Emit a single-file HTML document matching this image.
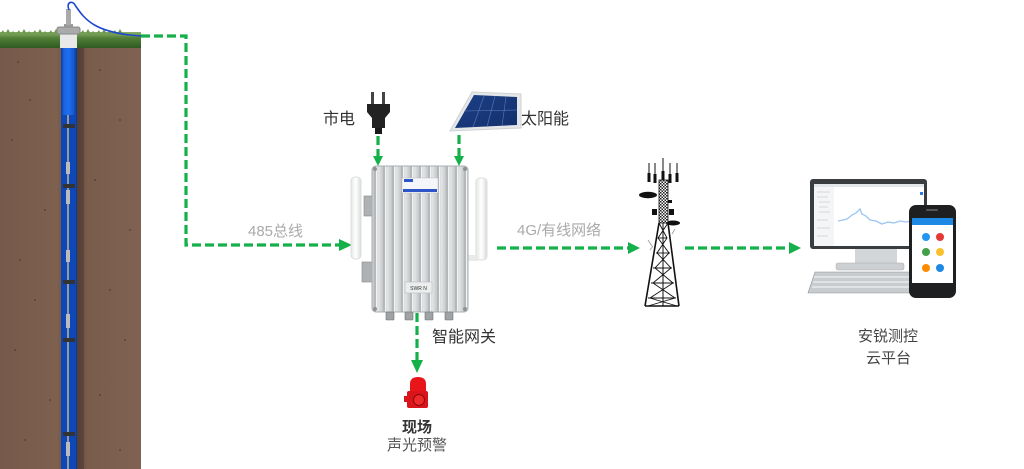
<!DOCTYPE html>
<html><head><meta charset="utf-8"><style>
html,body{margin:0;padding:0;background:#fff;}
body{width:1024px;height:469px;overflow:hidden;position:relative;font-family:"Liberation Sans","Noto Sans CJK SC",sans-serif;}
.t{position:absolute;white-space:nowrap;line-height:1;}
</style></head><body>
<svg width="1024" height="469" viewBox="0 0 1024 469" xmlns="http://www.w3.org/2000/svg" style="position:absolute;left:0;top:0">
<defs>
<linearGradient id="soil" x1="0" x2="1">
<stop offset="0" stop-color="#76594a"/><stop offset="0.4" stop-color="#7e604f"/><stop offset="0.55" stop-color="#5e4538"/><stop offset="0.62" stop-color="#7a5c4b"/><stop offset="1" stop-color="#806253"/>
</linearGradient>
<linearGradient id="pipe" x1="0" x2="1">
<stop offset="0" stop-color="#0a3fa8"/><stop offset="0.2" stop-color="#1a66e0"/><stop offset="0.5" stop-color="#1f6ef0"/><stop offset="0.8" stop-color="#1558cc"/><stop offset="1" stop-color="#0a3590"/>
</linearGradient>
<linearGradient id="grass" x1="0" y1="0" x2="0" y2="1">
<stop offset="0" stop-color="#8ab06a"/><stop offset="0.4" stop-color="#4f7d35"/><stop offset="1" stop-color="#2f5a22"/>
</linearGradient>
<linearGradient id="box" x1="0" x2="1">
<stop offset="0" stop-color="#c8cbcd"/><stop offset="0.5" stop-color="#e2e4e5"/><stop offset="1" stop-color="#c4c7c9"/>
</linearGradient>
<linearGradient id="ant" x1="0" x2="1">
<stop offset="0" stop-color="#e6e8e8"/><stop offset="0.5" stop-color="#ffffff"/><stop offset="1" stop-color="#d8dada"/>
</linearGradient>
<linearGradient id="solar" x1="0" y1="0" x2="1" y2="1">
<stop offset="0" stop-color="#1c3f86"/><stop offset="1" stop-color="#14306c"/>
</linearGradient>
<pattern id="fins" width="9" height="10" patternUnits="userSpaceOnUse" x="374">
<rect width="9" height="10" fill="url(#box)"/>
<rect x="0" width="2" height="10" fill="#b4b8ba"/>
<rect x="2" width="1" height="10" fill="#f2f3f3"/>
</pattern>
<pattern id="check" width="3" height="3" patternUnits="userSpaceOnUse">
<rect width="3" height="3" fill="#fff"/><rect width="1.5" height="1.5" fill="#222"/><rect x="1.5" y="1.5" width="1.5" height="1.5" fill="#222"/>
</pattern>
</defs>

<!-- soil -->
<rect x="0" y="44" width="141" height="425" fill="url(#soil)"/>
<g fill="#4a3a32" opacity="0.7">
<circle cx="18" cy="62" r="1"/><circle cx="30" cy="100" r="1"/><circle cx="12" cy="140" r="1"/><circle cx="45" cy="210" r="1"/><circle cx="20" cy="260" r="1"/><circle cx="35" cy="300" r="1"/><circle cx="15" cy="350" r="1"/><circle cx="50" cy="400" r="1"/><circle cx="25" cy="440" r="1"/>
<circle cx="100" cy="70" r="1"/><circle cx="120" cy="120" r="1"/><circle cx="95" cy="180" r="1"/><circle cx="130" cy="230" r="1"/><circle cx="110" cy="290" r="1"/><circle cx="125" cy="340" r="1"/><circle cx="100" cy="395" r="1"/><circle cx="120" cy="450" r="1"/>
</g>
<!-- grass -->
<rect x="0" y="32" width="141" height="16" fill="url(#grass)"/>
<path d="M0 34 l3 -4 l2 4 l3 -5 l3 5 l2 -3 l3 3 l3 -4 l2 4 l3 -5 l3 5 l2 -3 l3 3 l3 -4 l2 4 l3 -5 l3 5 l2 -3 l3 3 l3 -4 l2 4 l3 -5 l3 5 l2 -3 l3 3 l3 -4 l2 4 l3 -5 l3 5 l2 -3 l3 3 l3 -4 l2 4 l3 -5 l3 5 l2 -3 l3 3 l3 -4 l2 4 l3 -5 l3 5 l2 -3 l3 3 l3 -4 l2 4 l3 -5 l3 5 l1 0 z" fill="#6f9a50"/>
<!-- pipe -->
<rect x="61" y="48" width="16" height="421" fill="url(#pipe)"/>
<rect x="77" y="48" width="7" height="421" fill="#4b372d" opacity="0.5"/>
<rect x="62" y="115" width="14" height="354" fill="#0e48b8"/>
<g stroke="#999" stroke-width="2">
<line x1="68" y1="115" x2="68" y2="469"/>
</g>
<g fill="#333">
<rect x="63" y="124" width="12" height="4"/><rect x="63" y="184" width="12" height="4"/><rect x="63" y="280" width="12" height="4"/><rect x="63" y="338" width="12" height="4"/><rect x="63" y="432" width="12" height="4"/>
</g>
<g fill="#bbb">
<rect x="66" y="162" width="4" height="12"/><rect x="66" y="190" width="4" height="14"/><rect x="66" y="250" width="4" height="12"/><rect x="66" y="314" width="4" height="14"/><rect x="66" y="442" width="4" height="14"/>
</g>
<!-- well head -->
<rect x="60" y="33" width="17" height="15" fill="#e8e8e8"/>
<rect x="57" y="27" width="23" height="7" rx="2" fill="#aaa" stroke="#888"/>
<rect x="64" y="24" width="9" height="4" fill="#999"/>
<rect x="66" y="9" width="5" height="16" fill="#aaa"/>
<path d="M69 10 C66 2 72 0 75 5 C85 20 95 33 141 36" stroke="#1f48d0" stroke-width="1.6" fill="none"/>

<!-- dashed connectors -->
<g stroke="#14b04a" stroke-width="3.2" fill="none" stroke-dasharray="9 4">
<path d="M141 36 H186 V245 H341"/>
<path d="M378 136 V157"/>
<path d="M459 135 V157"/>
<path d="M497 248 H628"/>
<path d="M685 248 H791"/>
<path d="M417 313 V361"/>
</g>
<g fill="#14b04a">
<path d="M339 239 L352 245 L339 251 z"/>
<path d="M373 156 L378 166 L383 156 z"/>
<path d="M454 156 L459 166 L464 156 z"/>
<path d="M628 242 L640 248 L628 254 z"/>
<path d="M789 242 L801 248 L789 254 z"/>
<path d="M411 360 L417 373 L423 360 z"/>
</g>

<!-- plug -->
<rect x="371" y="92" width="3" height="13" fill="#444"/>
<rect x="382" y="92" width="3" height="13" fill="#444"/>
<path d="M367 104 H390 V112 L385 118 V128 H372 V118 L367 112 z" fill="#222"/>
<rect x="375" y="128" width="7" height="6" fill="#1a1a1a"/>

<!-- solar panel -->
<path d="M472 92 L521 94 L521 128 L450 131 z" fill="#e4e6e8" stroke="#cfd2d4"/>
<path d="M474 95 L517 97 L517 125 L455 128 z" fill="url(#solar)"/>
<g stroke="#5a7ab8" stroke-width="0.6">
<line x1="464" y1="111" x2="517" y2="110"/>
<line x1="484" y1="96" x2="473" y2="127"/><line x1="495" y1="96" x2="487" y2="127"/><line x1="506" y1="97" x2="502" y2="126"/>
</g>

<!-- gateway antennas -->
<rect x="351" y="177" width="10" height="82" rx="4" fill="url(#ant)" stroke="#dcdede"/>
<rect x="476" y="178" width="11" height="82" rx="4" fill="url(#ant)" stroke="#dcdede"/>
<rect x="466" y="255" width="12" height="6" fill="#e8eaea"/>
<!-- side brackets -->
<rect x="364" y="196" width="9" height="20" fill="#aeb2b4" stroke="#888" stroke-width="0.6"/>
<rect x="362" y="262" width="10" height="20" fill="#aeb2b4" stroke="#888" stroke-width="0.6"/>
<!-- gateway body -->
<rect x="372" y="166" width="96" height="146" rx="4" fill="url(#fins)" stroke="#a9adb0"/>
<rect x="402" y="178" width="36" height="15" fill="#f4f6fa" stroke="#bbb" stroke-width="0.5"/>
<rect x="403" y="189" width="34" height="3" fill="#2d55c8"/>
<rect x="404" y="179" width="9" height="3" fill="#2d55c8"/>
<rect x="405" y="282" width="27" height="11" fill="#eceeee" stroke="#b9bcbe" stroke-width="0.6"/>
<text x="418.5" y="290" font-size="5" text-anchor="middle" fill="#333" font-family="Liberation Sans, sans-serif">SWR  N</text>
<g fill="#8e9294">
<circle cx="375" cy="169" r="2"/><circle cx="465" cy="169" r="2"/><circle cx="375" cy="309" r="2"/><circle cx="465" cy="309" r="2"/>
</g>
<g fill="#9fa3a5" stroke="#6e7274" stroke-width="0.6">
<rect x="386" y="312" width="8" height="8" rx="1"/><rect x="405" y="312" width="8" height="8" rx="1"/><rect x="425" y="312" width="8" height="8" rx="1"/><rect x="445" y="312" width="8" height="8" rx="1"/>
</g>

<!-- alarm -->
<path d="M410 392 V384 Q410 377 418 377 Q426 377 426 384 V392 z" fill="#e8161b"/>
<rect x="407" y="391" width="21" height="17" rx="2" fill="#d9141a"/>
<circle cx="419" cy="400" r="5.5" fill="#f02a2a" stroke="#8a0a0a" stroke-width="1"/>
<rect x="404" y="396" width="4" height="6" fill="#d9141a"/>

<!-- tower -->
<g stroke="#111" fill="none">
<line x1="649" y1="163" x2="649" y2="182" stroke-width="1"/>
<line x1="655" y1="163" x2="655" y2="182" stroke-width="1"/>
<line x1="663" y1="158" x2="663" y2="182" stroke-width="1"/>
<line x1="670" y1="163" x2="670" y2="182" stroke-width="1"/>
<line x1="677" y1="163" x2="677" y2="182" stroke-width="1"/>
</g>
<g fill="#111">
<rect x="647.5" y="173" width="3" height="9"/><rect x="653.5" y="174" width="3" height="9"/><rect x="661.5" y="171" width="3" height="11"/><rect x="668.5" y="174" width="3" height="9"/><rect x="675.5" y="173" width="3" height="9"/>
<ellipse cx="648" cy="195" rx="9" ry="3.2"/>
<ellipse cx="673" cy="223" rx="7" ry="2.5"/>
<rect x="652" y="209" width="5" height="6"/><rect x="669" y="209" width="5" height="6"/>
<rect x="668" y="200" width="4" height="3"/>
</g>
<rect x="659" y="180" width="9" height="43" fill="url(#check)" stroke="#111" stroke-width="0.8"/>
<g stroke="#111" stroke-width="1.6" fill="none">
<path d="M659 223 L645 306 M668 223 L679 306 M645 306 H679"/>
<path d="M663 223 V306" stroke-width="1"/>
</g>
<g stroke="#111" stroke-width="0.9" fill="none">
<path d="M659 223 L667 238 L657 253 L671 268 L653 283 L675 298 L648 306"/>
<path d="M668 223 L658 238 L669 253 L655 268 L673 283 L650 298 L677 306"/>
<line x1="658" y1="238" x2="667" y2="238"/><line x1="656" y1="253" x2="670" y2="253"/><line x1="653" y1="268" x2="672" y2="268"/><line x1="651" y1="283" x2="674" y2="283"/><line x1="648" y1="298" x2="676" y2="298"/>
</g>
<g stroke="#999" stroke-width="0.8"><path d="M648 240 l4 6 M650 250 l3 -4 M672 234 l3 -5"/></g>

<!-- computer -->
<rect x="810" y="179" width="117" height="70" rx="3" fill="#3a3d40"/>
<rect x="814" y="184" width="110" height="62" fill="#fff"/>
<rect x="814" y="184" width="110" height="3" fill="#e3e6ea"/>
<rect x="814" y="187" width="20" height="59" fill="#f4f5f7"/>
<g stroke="#bbb" stroke-width="0.5"><line x1="817" y1="192" x2="830" y2="192"/><line x1="817" y1="197" x2="828" y2="197"/><line x1="819" y1="202" x2="830" y2="202"/><line x1="819" y1="207" x2="828" y2="207"/><line x1="819" y1="212" x2="830" y2="212"/><line x1="817" y1="220" x2="828" y2="220"/><line x1="817" y1="228" x2="830" y2="228"/><line x1="817" y1="236" x2="828" y2="236"/></g>
<rect x="920" y="192" width="3" height="3" fill="#2f7de0"/>
<path d="M838 221 L843 220 L847 219 L852 215 L856 213 L860 209 L862 214 L866 216 L870 220 L876 221 L882 224 L888 222 L894 223 L900 221 L906 222 L911 221 L916 221" stroke="#9cc6f2" stroke-width="1.3" fill="none"/>
<rect x="855" y="249" width="42" height="14" fill="#d3d6d8"/>
<rect x="836" y="263" width="68" height="7" rx="2" fill="#cdd0d2" stroke="#aaa" stroke-width="0.5"/>
<path d="M815 272 H915 L920 293 H808 z" fill="#c9cccf" stroke="#8c9093" stroke-width="0.6"/>
<g stroke="#eef0f1" stroke-width="1.2">
<line x1="814" y1="277" x2="912" y2="277"/><line x1="813" y1="282" x2="914" y2="282"/><line x1="812" y1="287" x2="916" y2="287"/>
</g>
<!-- phone -->
<rect x="909" y="205" width="47" height="93" rx="7" fill="#1e1f21"/>
<rect x="912" y="218" width="41" height="65" fill="#fff"/>
<rect x="912" y="218" width="41" height="7" fill="#1e88e5"/>
<circle cx="926" cy="237" r="4" fill="#2196f3"/><circle cx="940" cy="237" r="4" fill="#e53935"/>
<circle cx="926" cy="252" r="4" fill="#43a047"/><circle cx="940" cy="252" r="4" fill="#fbc02d"/>
<circle cx="926" cy="268" r="4" fill="#fb8c00"/><circle cx="940" cy="268" r="4" fill="#1e88e5"/>
<rect x="926" y="209" width="12" height="2" rx="1" fill="#555"/>
</svg>

<div class="t" style="left:323px;top:112px;font-size:16px;color:#333;">市电</div>
<div class="t" style="left:521px;top:112px;font-size:16px;color:#333;">太阳能</div>
<div class="t" style="left:248px;top:224px;font-size:15px;color:#aaa;">485总线</div>
<div class="t" style="left:517px;top:223px;font-size:15px;color:#aaa;">4G/有线网络</div>
<div class="t" style="left:432px;top:330px;font-size:16px;color:#333;">智能网关</div>
<div class="t" style="left:402px;top:420px;font-size:15px;color:#333;font-weight:bold;">现场</div>
<div class="t" style="left:387px;top:438px;font-size:15px;color:#555;">声光预警</div>
<div class="t" style="left:858px;top:329px;font-size:15px;color:#444;">安锐测控</div>
<div class="t" style="left:866px;top:351px;font-size:15px;color:#444;">云平台</div>
</body></html>
